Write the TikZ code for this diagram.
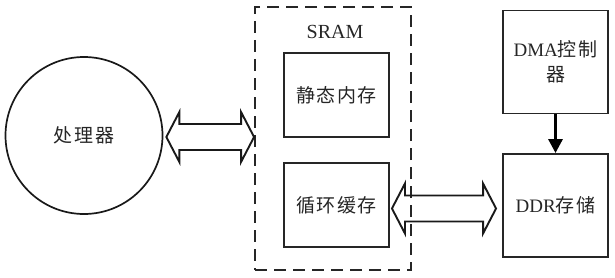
\documentclass[tikz,border=0pt]{standalone}
\usepackage{fontspec}
\setmainfont{Liberation Serif}
\newfontfamily\cjk[LetterSpace=8]{Noto Sans CJK SC}
\usetikzlibrary{arrows.meta}
\newcommand\zh[1]{{\cjk #1}}
\begin{document}
\begin{tikzpicture}[x=1pt,y=-1pt,
  box/.style={draw=black!85,line width=1.9pt,rectangle,inner sep=2pt,align=center},
  lbl/.style={font=\fontsize{19}{26}\selectfont,text=black!85},
  dblarr/.style={draw=black!90,line width=1.9pt,line join=miter},
  dma/.style={line width=3pt,-{Triangle[length=14pt,width=14pt]}}]
\useasboundingbox (0,0) rectangle (615,278);
% processor
\node[draw=black!90,line width=1.7pt,circle,minimum size=157pt,inner sep=0pt,lbl] (proc) at (84,135.5) {\zh{处理器}};
% SRAM dashed container
\node[draw=black!85,line width=1.9pt,dash pattern=on 12pt off 7pt,rectangle,minimum width=156pt,minimum height=263pt] (sram) at (333,138.5) {};
\node[lbl,font=\fontsize{20}{22}\selectfont] (sramlbl) at (335,32) {SRAM};
\node[box,lbl,minimum width=105pt,minimum height=84pt] (static) at (336.5,95) {\zh{静态内存}};
\node[box,lbl,minimum width=105pt,minimum height=84pt] (cyc) at (336.5,205) {\zh{循环缓存}};
% right side
\node[box,lbl,minimum width=105pt,minimum height=103pt] (dmac) at (555.5,62) {DMA\zh{控制}\\[-1pt]\zh{器}};
\node[box,lbl,minimum width=105pt,minimum height=103pt] (ddr) at (555.5,205.5) {DDR\zh{存储}};
\draw[dma] (dmac.south) -- (ddr.north);
% double arrows
\newcommand\dblarrow[2]{%
\draw[dblarr] (#1) -- ([shift={(13pt,25pt)}]#1) -- ([shift={(13pt,13pt)}]#1)
 -- ([shift={(-13pt,13pt)}]#2) -- ([shift={(-13pt,25pt)}]#2) -- (#2)
 -- ([shift={(-13pt,-25pt)}]#2) -- ([shift={(-13pt,-13pt)}]#2)
 -- ([shift={(13pt,-13pt)}]#1) -- ([shift={(13pt,-25pt)}]#1) -- cycle;}
\coordinate (pa) at ([xshift=3pt]proc.east |- 0,137);
\coordinate (pb) at (sram.west |- 0,137);
\dblarrow{pa}{pb}
\coordinate (ca) at ([xshift=2pt]cyc.east |- 0,208.5);
\coordinate (cb) at ([xshift=-6pt]ddr.west |- 0,208.5);
\dblarrow{ca}{cb}
\end{tikzpicture}
\end{document}
